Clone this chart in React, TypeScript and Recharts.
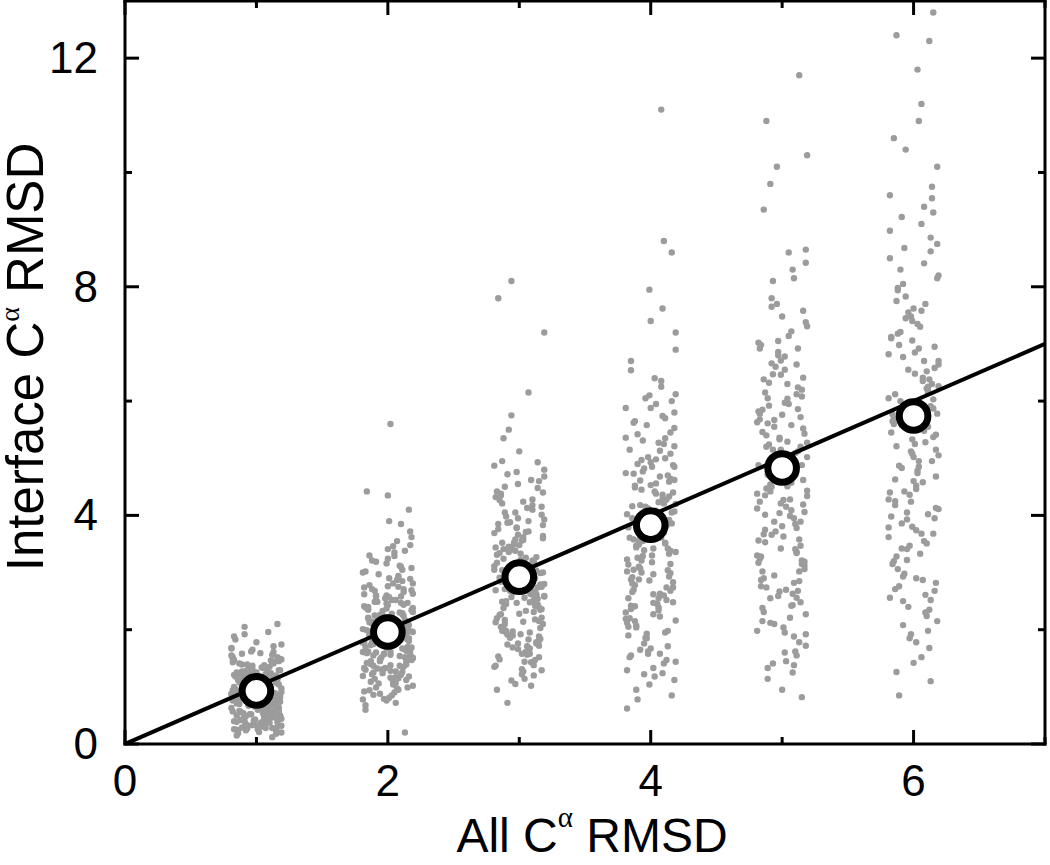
import React from 'react'
import { ScatterChart, Scatter, XAxis, YAxis, Label } from 'recharts'

// axes
const X_TICKS = [0, 1, 2, 3, 4, 5, 6, 7]
const X_MAJOR = [0, 2, 4, 6]
const Y_TICKS = [0, 2, 4, 6, 8, 10, 12]
const Y_MAJOR = [0, 4, 8, 12]

// columns (All Ca RMSD bins) and their means
const COLUMNS = [1, 2, 3, 4, 5, 6]
const MEANS = [0.93, 1.96, 2.92, 3.83, 4.83, 5.74]

// y = x reference line
const FIT_X = [0, 7]
const FIT_Y = [0, 7]

// horizontal jitter inside a column, in hundredths of a unit
const JITTER = [
  -12, 7, 15, -3, -18, 10, 2, -8, 18, -15, 5, -1, 13, -10, 8, -19, 16, -6, 0, 11,
  -14, 4, 19, -9, -4, 14, -17, 9, 1, -11, 17, -7, 6, -16, 12, -2, 3, -13, 19, -5,
  8, -18, 15, -9, 2, 11, -14, 6, -1, 17, -8, 13, -19, 4, 10, -6, -15, 18, 0, -11,
  7, -3, 14, -17, 9, -12, 16, 1, -7, 12, -16, 5, 18, -4, -10, 3, 15, -13, 8, -19,
  11, -2, 17, -8, 6, -14, 0, 13, -5, 19, -11, 4, -17, 9, 14, -1, -9, 16, -15, 2,
  10, -6, 18, -12, 7, -18, 12, -3, 5, -13, 15, -7, 1, 19, -10, 8, -16, 11, -4, 17,
  -14, 3, -8, 13, -19, 6, 16, -2, -11, 9, -17, 0, 14, -5, 18, -9, 4, -15, 10, -1,
  12, -12, 7, -18, 15, -6, 2, 19, -13, 11,
]

// Interface Ca RMSD per structure, one list per column
const COL1 = [
  0.42, 1.15, 0.78, 0.33, 1.52, 0.95, 0.61, 1.28, 0.87, 0.25, 1.06, 0.72, 1.41, 0.54, 0.98, 1.67, 0.38, 0.83, 1.21, 0.66,
  0.19, 1.34, 0.91, 0.47, 1.09, 0.58, 1.88, 0.74, 1.02, 0.29, 1.45, 0.86, 0.51, 1.18, 0.69, 0.35, 1.59, 0.93, 0.44, 1.26,
  0.81, 0.57, 1.12, 2.05, 0.63, 0.97, 0.22, 1.38, 0.76, 1.04, 0.49, 1.71, 0.88, 0.31, 1.23, 0.67, 0.15, 1.49, 0.84, 1.01,
  0.55, 1.31, 0.73, 0.4, 1.96, 0.92, 1.16, 0.6, 0.27, 1.42, 0.79, 1.07, 0.5, 1.62, 0.96, 0.36, 1.2, 0.7, 0.85, 1.55,
  0.46, 1.11, 0.64, 0.24, 1.36, 0.9, 1.78, 0.53, 0.99, 0.32, 1.27, 0.77, 1.47, 0.6, 0.89, 0.43, 1.14, 2.1, 0.71, 1.03,
  0.37, 1.32, 0.82, 0.56, 1.22, 0.94, 0.28, 1.65, 0.68, 1.08, 0.45, 1.39, 0.8, 0.2, 1.17, 0.62, 1.83, 0.97, 0.52, 1.29,
  0.75, 1.0, 0.34, 1.44, 0.87, 0.59, 1.13, 0.41, 1.58, 0.93, 0.26, 1.25, 0.7, 1.05, 0.48, 1.92, 0.83, 0.39, 1.35, 0.65,
  0.12, 1.19, 0.9, 1.5, 0.57, 1.02, 0.3, 1.74,
  0.58, 1.24, 0.81, 0.36, 1.07, 0.69, 1.43, 0.95, 0.21, 1.18, 0.74, 0.5, 1.33, 0.88, 1.61, 0.44, 1.01, 0.63, 0.3, 1.27,
  0.92, 0.55, 1.12, 0.78, 1.48, 0.4, 0.99, 0.67, 1.21, 0.86, 0.26, 1.39, 0.6, 1.05, 0.47, 0.83, 1.56, 0.72, 0.34, 1.15,
  0.97, 0.52, 1.3, 0.76, 0.18, 1.09, 0.65, 1.46, 0.89, 0.43, 1.2, 0.57, 1.03, 0.8, 1.68, 0.38, 0.94, 0.7, 1.25, 0.49,
  1.11, 0.84, 0.28, 1.37, 0.62, 1.0, 0.45, 0.9, 1.52, 0.73, 0.33, 1.16, 0.96, 0.54, 1.29, 0.79, 1.06, 0.61, 0.23, 1.41,
]
const COL2 = [
  1.45, 2.31, 1.82, 0.95, 2.74, 1.63, 2.12, 1.28, 3.05, 1.91, 0.72, 2.46, 1.57, 2.02, 3.38, 1.19, 1.76, 2.58, 0.88, 2.21,
  1.69, 4.35, 1.37, 2.87, 1.98, 1.12, 2.39, 1.54, 3.21, 2.08, 0.81, 1.86, 2.66, 1.42, 2.15, 3.62, 1.24, 1.95, 2.52, 0.99,
  1.73, 2.94, 1.61, 2.27, 1.33, 3.48, 2.05, 1.07, 1.88, 2.43, 0.2, 1.51, 2.81, 1.79, 2.18, 1.3, 3.12, 1.93, 0.76, 2.6,
  1.66, 2.36, 1.16, 3.85, 2.0, 1.47, 2.71, 1.84, 0.92, 2.24, 1.58, 3.29, 1.4, 2.12, 2.97, 1.71, 1.02, 2.49, 1.89, 4.42,
  1.26, 2.33, 1.64, 2.78, 0.85, 2.09, 1.52, 3.0, 1.97, 1.18, 2.55, 1.75, 2.3, 0.68, 3.41, 1.44, 2.02, 2.69, 1.6, 1.1,
  2.4, 1.83, 3.16, 1.35, 2.14, 0.97, 2.62, 1.7, 2.26, 5.6, 1.5, 1.92, 2.85, 1.22, 3.55, 2.06, 0.79, 1.78, 2.47, 1.38,
  2.19, 3.08, 1.62, 0.9, 2.37, 1.86, 1.14, 2.75, 2.01, 4.1, 1.48, 2.22, 1.67, 3.3, 1.04, 1.96, 2.58, 1.31, 2.11, 0.6,
  1.81, 2.9, 1.55, 3.72, 2.16, 1.27, 1.99, 2.44,
  1.72, 2.28, 1.41, 2.63, 1.95, 1.15, 2.41, 1.83, 3.19, 1.56, 2.07, 0.94, 2.52, 1.68, 2.89, 1.32, 2.17, 1.77, 3.46, 1.21,
  1.99, 2.35, 1.49, 2.76, 0.86, 1.9, 2.23, 1.63, 3.02, 1.37, 2.11, 1.8, 2.57, 1.06, 2.44, 1.59, 3.35, 1.97, 1.28, 2.68,
  1.74, 2.03, 1.44, 2.92, 0.78, 2.29, 1.87, 1.53, 2.49, 1.17, 2.13, 3.24, 1.66, 1.93, 2.38, 1.25, 2.81, 1.7, 2.06, 1.39,
  2.6, 0.99, 1.85, 2.2, 1.61, 3.1, 1.45, 2.34, 1.78, 2.0, 1.33, 2.71, 1.57, 2.15, 1.09, 2.47, 1.81, 3.9, 1.51, 2.25,
]
const COL3 = [
  2.45, 3.62, 1.88, 4.21, 2.97, 1.35, 3.18, 4.76, 2.21, 3.45, 1.62, 2.84, 5.12, 3.03, 1.97, 2.58, 4.05, 1.14, 3.31, 2.72,
  4.48, 1.76, 3.87, 2.35, 1.48, 3.56, 2.93, 5.75, 2.1, 3.24, 1.83, 4.32, 2.66, 1.05, 3.71, 2.49, 4.6, 3.12, 1.92, 2.8,
  3.98, 1.58, 7.8, 2.31, 3.49, 4.15, 2.05, 1.27, 3.36, 2.62, 4.87, 1.71, 2.99, 3.78, 2.17, 1.43, 4.42, 3.07, 2.54, 1.9,
  3.64, 0.72, 2.76, 4.27, 3.21, 1.66, 2.42, 5.35, 3.9, 2.13, 1.52, 3.4, 2.88, 4.68, 1.98, 3.15, 2.38, 6.15, 1.81, 3.58,
  2.69, 4.1, 1.22, 2.95, 3.83, 2.26, 1.61, 4.55, 3.27, 2.5, 1.95, 3.69, 2.03, 8.1, 2.82, 1.38, 4.38, 3.1, 2.59, 1.74,
  3.52, 4.93, 2.2, 1.02, 3.33, 2.71, 4.01, 1.86, 2.98, 3.76, 1.47, 2.47, 4.24, 3.04, 7.2, 1.69, 2.64, 3.44, 2.15, 4.72,
  1.31, 3.2, 2.85, 1.56, 3.95, 2.36, 5.5, 1.78, 3.11, 2.56, 4.18, 1.11, 2.91, 3.6, 2.28, 4.5, 1.64, 3.38, 2.74, 0.95,
  2.62, 3.41, 1.84, 2.95, 3.88, 2.18, 1.53, 3.26, 4.4, 2.71, 1.98, 3.57, 2.39, 4.95, 1.67, 3.05, 2.52, 3.79, 1.29, 2.86,
  4.13, 2.27, 3.48, 1.76, 2.65, 3.93, 2.1, 1.44, 3.17, 4.62, 2.44, 3.66, 1.91, 2.79, 3.34, 1.58, 4.28, 2.57, 3.0, 2.02,
  3.72, 1.37, 2.9, 4.05, 2.33, 3.52, 1.72, 2.68, 3.22, 4.8, 1.95, 2.48, 3.85, 1.2, 3.1, 2.75, 4.35, 2.14, 3.44, 2.59,
]
const COL4 = [
  3.21, 4.85, 2.16, 5.42, 3.68, 1.52, 4.27, 6.05, 2.74, 3.95, 1.18, 4.61, 3.04, 5.88, 2.39, 0.85, 4.12, 3.47, 7.62, 2.05,
  4.93, 3.33, 1.76, 5.21, 2.88, 4.38, 6.54, 1.41, 3.76, 2.52, 5.65, 4.02, 0.62, 3.15, 4.77, 2.27, 6.9, 3.58, 1.95, 4.49,
  2.63, 5.08, 3.89, 1.29, 8.8, 2.97, 4.18, 5.53, 2.42, 3.63, 1.04, 4.7, 3.26, 6.25, 2.19, 4.05, 5.31, 1.67, 3.51, 2.81,
  4.56, 7.2, 3.1, 1.86, 4.33, 2.55, 5.74, 3.73, 0.95, 4.88, 3.0, 2.34, 5.15, 3.82, 1.58, 4.42, 2.7, 6.12, 3.39, 11.1,
  2.12, 4.64, 3.55, 1.33, 5.0, 2.92, 4.23, 7.95, 2.48, 3.7, 1.71, 5.36, 4.08, 2.6, 3.29, 6.7, 1.12, 4.53, 3.44, 2.23,
  5.58, 3.92, 1.9, 4.29, 2.78, 8.6, 3.18, 4.97, 1.47, 3.61, 2.45, 5.8, 4.15, 0.78, 3.84, 2.99, 4.73, 6.35, 2.3, 3.52,
  1.62, 4.4, 3.07, 5.27, 2.66, 7.4, 1.98, 4.82, 3.36, 2.07, 5.95, 3.79, 1.24, 4.59, 2.86, 3.98, 6.0, 1.55, 3.42, 4.21,
  3.55, 4.62, 2.41, 5.13, 3.02, 4.28, 1.85, 3.77, 5.62, 2.68, 4.45, 3.3, 1.44, 4.9, 3.61, 2.2, 5.35, 3.95, 2.83, 4.16,
  6.4, 1.65, 3.42, 4.74, 2.55, 3.86, 5.02, 2.04, 4.36, 3.14, 5.88, 2.93, 1.22, 4.07, 3.49, 4.98, 2.36, 3.7, 6.1, 2.74,
  4.52, 1.58, 3.23, 5.45, 3.9, 2.47, 4.2, 3.05, 5.7, 2.15, 4.68, 3.38, 1.93, 4.02, 5.25, 2.62, 3.64, 4.85, 2.88, 3.99,
]
const COL5 = [
  4.35, 6.12, 2.74, 5.58, 3.21, 7.05, 4.88, 1.62, 5.97, 3.66, 8.42, 2.38, 4.65, 6.71, 3.02, 5.24, 1.25, 4.12, 7.58, 3.89,
  5.76, 2.56, 6.38, 4.51, 10.3, 2.12, 5.05, 3.47, 6.92, 1.88, 4.76, 5.61, 3.12, 8.1, 4.28, 2.87, 6.24, 5.33, 1.45, 3.75,
  7.31, 4.97, 2.63, 5.82, 0.82, 4.42, 6.55, 3.36, 9.35, 2.21, 5.15, 4.06, 7.8, 3.58, 1.98, 6.04, 4.71, 2.95, 5.46, 8.65,
  3.81, 1.33, 4.57, 6.86, 2.48, 5.68, 3.95, 10.9, 4.19, 2.04, 6.47, 5.12, 3.28, 7.14, 1.72, 4.83, 5.92, 2.7, 6.2, 3.53,
  8.3, 4.38, 1.55, 5.36, 3.06, 6.66, 4.93, 2.31, 7.48, 11.7, 3.72, 5.02, 1.14, 6.3, 4.24, 2.82, 5.72, 3.42, 9.8, 4.62,
  2.15, 6.78, 3.85, 5.55, 1.92, 4.47, 7.22, 3.17, 5.86, 2.59, 8.6, 4.01, 6.08, 1.41, 3.63, 5.27, 4.79, 2.43, 6.98, 3.34,
  10.1, 5.43, 2.9, 4.15, 7.65, 1.78, 5.63, 3.99, 6.41, 2.67, 4.71, 8.15, 3.24, 0.95, 5.2, 6.6, 2.27, 4.54,
  4.62, 5.85, 3.41, 6.46, 2.68, 5.2, 4.09, 7.02, 3.15, 5.67, 1.95, 4.34, 6.15, 3.78, 5.4, 2.42, 4.88, 6.8, 3.56, 5.09,
  1.6, 4.5, 7.38, 3.02, 5.95, 4.21, 2.85, 6.32, 4.75, 3.3, 5.52, 2.1, 4.98, 6.64, 3.67, 5.29, 4.43, 2.55, 7.7, 3.89,
  5.78, 1.38, 4.27, 6.05, 3.19, 5.15, 4.66, 2.76, 6.92, 4.04,
]
const COL6 = [
  5.12, 7.35, 3.28, 6.64, 4.05, 8.41, 2.56, 5.87, 9.22, 3.74, 6.18, 4.63, 1.52, 7.06, 5.41, 2.93, 8.86, 4.28, 6.92, 3.51,
  10.4, 5.69, 2.15, 7.62, 4.87, 6.35, 1.85, 9.55, 3.98, 5.28, 7.94, 2.68, 6.48, 4.42, 12.3, 3.15, 5.96, 8.15, 2.4, 7.21,
  4.74, 6.03, 1.26, 9.4, 3.62, 5.55, 7.48, 2.82, 6.77, 11.2, 4.18, 5.02, 8.62, 3.41, 6.26, 0.85, 4.95, 7.12, 2.61, 9.75,
  5.33, 3.86, 6.58, 10.6, 4.52, 2.24, 7.83, 5.78, 3.06, 6.41, 8.98, 1.68, 4.36, 7.3, 5.21, 12.8, 2.98, 6.85, 4.11, 8.3,
  3.55, 5.65, 1.98, 7.55, 4.68, 6.12, 11.8, 2.5, 5.91, 3.79, 9.1, 6.95, 4.24, 2.76, 7.7, 5.45, 1.42, 6.3, 3.93, 8.75,
  4.83, 10.9, 3.2, 6.52, 5.08, 2.35, 7.18, 4.58, 9.6, 3.68, 5.82, 1.78, 6.7, 12.4, 4.02, 7.98, 2.87, 5.37, 3.47, 8.5,
  6.22, 4.46, 2.08, 10.1, 5.6, 3.33, 7.4, 1.1, 6.0,
  5.48, 6.82, 3.95, 7.45, 4.6, 6.15, 2.71, 5.9, 8.2, 3.42, 6.55, 4.95, 7.1, 2.3, 5.25, 6.98, 4.13, 8.68, 3.68, 5.77,
  6.38, 1.92, 4.78, 7.75, 5.05, 3.22, 6.7, 4.4, 9.3, 5.58, 2.9, 6.25, 4.25, 7.58, 3.8, 5.15, 8.05, 2.52, 6.05, 4.85,
]
const COLUMN_VALUES = [COL1, COL2, COL3, COL4, COL5, COL6]

const FONT = '"Liberation Sans", Arial, Helvetica, sans-serif'
const SERIF = '"Liberation Serif", "Times New Roman", serif'
const GREY = '#9c9c9c'
const AXIS = { stroke: '#000', strokeWidth: 3, strokeLinecap: 'square' as const }

const points = COLUMN_VALUES.flatMap((ys, c) =>
  ys.map((y, i) => ({ x: COLUMNS[c] + JITTER[(i + c * 37) % JITTER.length] / 100, y })),
)
const means = COLUMNS.map((x, i) => ({ x, y: MEANS[i] }))
const fit = FIT_X.map((x, i) => ({ x, y: FIT_Y[i] }))

function BottomTick({ x, y, payload }: any) {
  const major = X_MAJOR.includes(payload.value)
  return (
    <g>
      <line x1={x} x2={x} y1={y} y2={y - (major ? 14 : 7)} stroke="#000" strokeWidth={3} />
      {major && (
        <text x={x} y={y + 52} textAnchor="middle" fontSize={44} fontFamily={FONT} fill="#000">
          {payload.value}
        </text>
      )}
    </g>
  )
}

function TopTick({ x, y, payload }: any) {
  const major = X_MAJOR.includes(payload.value)
  return <line x1={x} x2={x} y1={y} y2={y + (major ? 14 : 7)} stroke="#000" strokeWidth={3} />
}

function LeftTick({ x, y, payload }: any) {
  const major = Y_MAJOR.includes(payload.value)
  return (
    <g>
      <line x1={x} x2={x + (major ? 14 : 7)} y1={y} y2={y} stroke="#000" strokeWidth={3} />
      {major && (
        <text x={x - 27} y={y + 15} textAnchor="end" fontSize={44} fontFamily={FONT} fill="#000">
          {payload.value}
        </text>
      )}
    </g>
  )
}

function RightTick({ x, y, payload }: any) {
  const major = Y_MAJOR.includes(payload.value)
  return <line x1={x} x2={x - (major ? 14 : 7)} y1={y} y2={y} stroke="#000" strokeWidth={3} />
}

const XTitle = () => (
  <text x={592} y={852} textAnchor="middle" fontSize={48} fontFamily={FONT} fill="#000">
    All C
    <tspan dy={-25} fontSize={29} fontFamily={SERIF}>α</tspan>
    <tspan dy={25}> RMSD</tspan>
  </text>
)

const YTitle = () => (
  <text x={43} y={357} transform="rotate(-90, 43, 357)" textAnchor="middle" fontSize={51} fontFamily={FONT} fill="#000">
    Interface C
    <tspan dy={-24} fontSize={28} fontFamily={SERIF}>α</tspan>
    <tspan dy={24}> RMSD</tspan>
  </text>
)

const GreyDot = (p: any) => <circle cx={p.cx} cy={p.cy} r={3.2} fill={GREY} />
const MeanDot = (p: any) => <circle cx={p.cx} cy={p.cy} r={14.3} fill="#fff" stroke="#000" strokeWidth={7} />

export default function App() {
  return (
    <div style={{ position: 'absolute', left: 0, top: 0, background: '#fff' }}>
      <ScatterChart width={1050} height={865} margin={{ top: 0, right: 4, bottom: 0, left: 0 }}>
        <XAxis xAxisId="bottom" type="number" dataKey="x" domain={[0, 7]} ticks={X_TICKS} interval={0}
          allowDataOverflow height={121} tickSize={0} tickMargin={0} tickLine={false} axisLine={AXIS}
          tick={<BottomTick />}>
          <Label content={<XTitle />} />
        </XAxis>
        <XAxis xAxisId="top" orientation="top" type="number" dataKey="x" domain={[0, 7]} ticks={X_TICKS} interval={0}
          allowDataOverflow height={1} tickSize={0} tickMargin={0} tickLine={false} axisLine={AXIS}
          tick={<TopTick />} />
        <YAxis yAxisId="left" type="number" dataKey="y" domain={[0, 13]} ticks={Y_TICKS} interval={0}
          allowDataOverflow width={125} tickSize={0} tickMargin={0} tickLine={false} axisLine={AXIS}
          tick={<LeftTick />}>
          <Label content={<YTitle />} />
        </YAxis>
        <YAxis yAxisId="right" orientation="right" type="number" dataKey="y" domain={[0, 13]} ticks={Y_TICKS}
          interval={0} allowDataOverflow width={1} tickSize={0} tickMargin={0} tickLine={false} axisLine={AXIS}
          tick={<RightTick />} />
        <Scatter data={points} xAxisId="bottom" yAxisId="left" shape={GreyDot} isAnimationActive={false} />
        <Scatter data={fit} xAxisId="top" yAxisId="right" line={{ stroke: '#000', strokeWidth: 4 }}
          shape={() => <g />} isAnimationActive={false} />
        <Scatter data={means} xAxisId="bottom" yAxisId="left" shape={MeanDot} isAnimationActive={false} />
      </ScatterChart>
    </div>
  )
}
